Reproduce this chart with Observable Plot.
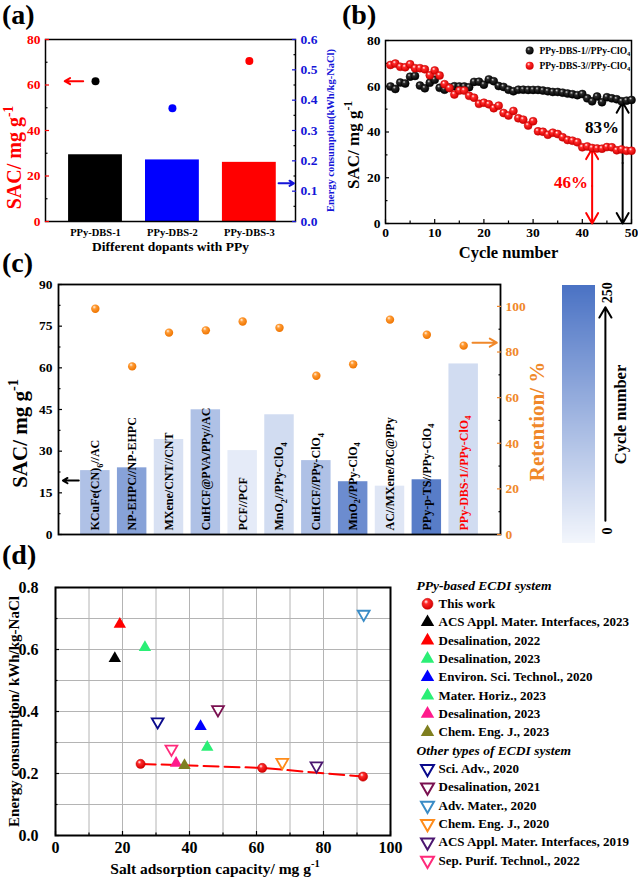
<!DOCTYPE html>
<html>
<head>
<meta charset="utf-8">
<script src="https://cdn.jsdelivr.net/npm/d3@7"></script>
<script src="https://cdn.jsdelivr.net/npm/@observablehq/plot@0.6"></script>
<style>
  html, body { margin: 0; padding: 0; background: #ffffff; }
  #root { position: relative; width: 638px; height: 883px; overflow: hidden; background: #fff; }
  .tag { position: absolute; font-family: "Liberation Serif", "Times New Roman", serif; font-weight: bold; font-size: 28px; line-height: 1; color: #000; }
</style>
</head>
<body>
<svg width="0" height="0" style="position:absolute">
  <defs>
    <radialGradient id="ballBlack" cx="0.42" cy="0.38" r="0.62" fx="0.36" fy="0.3">
      <stop offset="0" stop-color="#d8d8d8"/><stop offset="0.3" stop-color="#2a2a2a"/><stop offset="1" stop-color="#000"/>
    </radialGradient>
    <radialGradient id="ballRed" cx="0.42" cy="0.38" r="0.62" fx="0.36" fy="0.3">
      <stop offset="0" stop-color="#ffffff"/><stop offset="0.32" stop-color="#ff2a2a"/><stop offset="1" stop-color="#d40000"/>
    </radialGradient>
    <radialGradient id="ballOrange" cx="0.42" cy="0.38" r="0.62" fx="0.36" fy="0.3">
      <stop offset="0" stop-color="#fff4e6"/><stop offset="0.35" stop-color="#ff9a33"/><stop offset="1" stop-color="#ee7400"/>
    </radialGradient>
  </defs>
</svg>
<div id="root">
  <div class="tag" style="left:2px;top:1px">(a)</div>
  <div class="tag" style="left:342px;top:1px">(b)</div>
  <div class="tag" style="left:2px;top:249px">(c)</div>
  <div class="tag" style="left:2px;top:541px">(d)</div>
</div>
<script>
// ---------------- DATA ----------------
// Panel (a)
const dopants = ["PPy-DBS-1", "PPy-DBS-2", "PPy-DBS-3"];
const energyA = [0.22, 0.203, 0.195];          // kWh/kg-NaCl (bars, right axis)
const sacA = [61.7, 49.8, 70.5];               // mg/g (dots, left axis)
const sacTicksA = [0, 20, 40, 60, 80];
const sacMinorA = [10, 30, 50, 70];
const energyTicksA = [0, 0.1, 0.2, 0.3, 0.4, 0.5, 0.6];
const energyMinorA = [0.05, 0.15, 0.25, 0.35, 0.45, 0.55];

// Panel (b)
const cycles = d3.range(1, 51);
const sacDBS1 = [59.9, 58.8, 61.6, 61.2, 64.2, 64.5, 60.3, 59.1, 61.5, 62.8,
                 59.3, 58.5, 59.4, 60.0, 59.9, 59.9, 59.6, 61.9, 62.0, 60.7,
                 63.0, 62.2, 60.1, 59.7, 58.5, 57.8, 58.5, 58.5, 58.4, 58.4,
                 58.4, 58.1, 57.8, 57.5, 57.5, 57.2, 56.8, 56.5, 56.1, 56.6,
                 54.7, 53.4, 55.5, 53.0, 55.2, 54.7, 54.3, 53.4, 53.7, 54.0];
const sacDBS3 = [69.3, 69.9, 68.5, 68.3, 69.6, 67.9, 67.9, 67.4, 64.8, 66.9,
                 64.7, 60.9, 59.2, 56.4, 58.1, 58.1, 55.8, 55.0, 52.3, 52.8,
                 52.1, 50.4, 51.5, 48.3, 47.2, 49.2, 46.0, 45.4, 42.8, 44.7,
                 40.3, 40.1, 38.8, 39.7, 39.1, 37.7, 36.5, 36.2, 35.5, 33.3,
                 33.7, 33.0, 32.8, 32.7, 33.4, 33.3, 32.0, 32.4, 31.8, 31.8];
const seriesB = ["PPy-DBS-1//PPy-ClO₄", "PPy-DBS-3//PPy-ClO₄"];
const retainB = ["83%", "46%"];
const cycleTicksB = [0, 10, 20, 30, 40, 50];
const cycleMinorB = [5, 15, 25, 35, 45];
const sacTicksB = [0, 20, 40, 60, 80];
const sacMinorB = [10, 30, 50, 70];
// annotation anchors (data units): [cycle, top SAC]
const retainArrowB = [[48.2, 53.0], [42.0, 32.7]];
const retainTextB = [[44, 41.9], [37.7, 17.8]];

// Panel (c)
const electrodes = ["KCuFe(CN)₆//AC", "NP-EHPC//NP-EHPC", "MXene/CNT//CNT", "CuHCF@PVA/PPy//AC",
                    "PCF//PCF", "MnO₂//PPy-ClO₄", "CuHCF//PPy-ClO₄", "MnO₂//PPy-ClO₄",
                    "AC//MXene/BC@PPy", "PPy-p-TS//PPy-ClO₄", "PPy-DBS-1//PPy-ClO₄"];
const sacC = [23.0, 24.0, 34.2, 44.9, 30.2, 43.1, 26.6, 19.0, 17.4, 19.7, 61.4];
const retentionC = [99.0, 73.7, 88.5, 89.5, 93.4, 90.6, 69.6, 74.6, 94.2, 87.6, 82.8];
const cycleNumC = [100, 160, 40, 100, 20, 50, 100, 200, 30, 230, 50];
const sacTicksC = [0, 15, 30, 45, 60, 75, 90];
const sacMinorC = [7.5, 22.5, 37.5, 52.5, 67.5, 82.5];
const retTicksC = [0, 20, 40, 60, 80, 100];
const retMinorC = [10, 30, 50, 70, 90];
const cycleScaleC = [0, 250];

// Panel (d)
const thisWorkSAC = [25.4, 61.7, 91.8];
const thisWorkEnergy = [0.231, 0.218, 0.190];
const refNames = ["ACS Appl. Mater. Interfaces, 2023", "Desalination, 2022", "Desalination, 2023",
                  "Environ. Sci. Technol., 2020", "Mater. Horiz., 2023", "Desalination, 2023",
                  "Chem. Eng. J., 2023",
                  "Sci. Adv., 2020", "Desalination, 2021", "Adv. Mater., 2020", "Chem. Eng. J., 2020",
                  "ACS Appl. Mater. Interfaces, 2019", "Sep. Purif. Technol., 2022"];
const refGroup = ["PPy", "PPy", "PPy", "PPy", "PPy", "PPy", "PPy",
                  "Other", "Other", "Other", "Other", "Other", "Other"];
const refSAC = [17.7, 19.2, 26.7, 43.3, 45.3, 36.0, 38.5, 30.5, 48.5, 92.0, 67.7, 77.9, 34.6];
const refEnergy = [0.571, 0.682, 0.607, 0.352, 0.285, 0.233, 0.226, 0.367, 0.406, 0.714, 0.236, 0.225, 0.279];
const legendHeaders = ["PPy-based ECDI system", "Other types of ECDI system"];
const sacTicksD = [0, 20, 40, 60, 80, 100];
const sacMinorD = [10, 30, 50, 70, 90];
const energyTicksD = [0, 0.2, 0.4, 0.6, 0.8];
const energyMinorD = [0.1, 0.3, 0.5, 0.7];

// ---------------- STYLES ----------------
const SERIF = '"Liberation Serif", "Times New Roman", serif';
const colorsA = ["#000000", "#0000ff", "#ff0000"];
const refColors = ["#000000", "#ff0000", "#2bef76", "#0000ff", "#2bef76", "#ff1a8c", "#7f7f1f",
                   "#0a0a8c", "#7a1050", "#3a8cc6", "#ff8c1a", "#4b1670", "#ff2a7a"];
const BLUE_A = "#1515d8";
const ORANGE = "#f0882a";
const style = () => ({fontFamily: SERIF, fontWeight: "bold", background: "transparent", overflow: "visible", color: "black"});
const cycleColor = {type: "linear", domain: cycleScaleC, range: ["#f3f6fc", "#4a72c4"], interpolate: "rgb"};

const sqrt3 = Math.sqrt(3);
const triangleDown = {
  draw(context, size) {
    const y = -Math.sqrt(size / (sqrt3 * 3));
    context.moveTo(0, -y * 2);
    context.lineTo(sqrt3 * y, y);
    context.lineTo(-sqrt3 * y, y);
    context.closePath();
  }
};

function axY(values, o = {}) {
  const size = o.size ?? 4, pad = o.pad ?? 5;
  return Plot.axisY(values, {
    anchor: o.anchor ?? "left", tickSize: -size, tickPadding: size + pad,
    tickFormat: o.minor ? () => "" : o.fmt, color: o.color ?? "black",
    fontSize: o.fontSize ?? 13.5, fontWeight: "bold", label: null, strokeWidth: 1.2
  });
}
function axX(values, o = {}) {
  const size = o.size ?? 4, pad = o.pad ?? 5;
  return Plot.axisX(values, {
    anchor: "bottom", tickSize: -size, tickPadding: size + pad,
    tickFormat: o.minor ? () => "" : o.fmt, color: o.color ?? "black",
    fontSize: o.fontSize ?? 13.5, fontWeight: "bold", label: null, strokeWidth: 1.2
  });
}

// sub/superscript handling
const SUB = {"₀":"0","₁":"1","₂":"2","₃":"3","₄":"4","₅":"5","₆":"6","₇":"7","₈":"8","₉":"9"};
const SUP = {"⁻":"-","¹":"1"};
function scripts(svg) {
  const NS = "http://www.w3.org/2000/svg";
  svg.querySelectorAll("text").forEach(t => {
    if (t.children.length) return;
    const s = t.textContent;
    if (![...s].some(c => SUB[c] || SUP[c])) return;
    const fs = parseFloat(getComputedStyle(t).fontSize) || 12;
    const runs = [];
    for (const c of s) {
      const kind = SUB[c] ? "sub" : SUP[c] ? "sup" : "n";
      const ch = SUB[c] || SUP[c] || c;
      if (runs.length && runs[runs.length - 1].kind === kind) runs[runs.length - 1].text += ch;
      else runs.push({kind, text: ch});
    }
    t.textContent = "";
    let cur = 0;
    for (const r of runs) {
      const ts = document.createElementNS(NS, "tspan");
      const target = r.kind === "sub" ? 0.28 * fs : r.kind === "sup" ? -0.42 * fs : 0;
      if (target !== cur) ts.setAttribute("dy", (target - cur).toFixed(2));
      cur = target;
      if (r.kind !== "n") ts.setAttribute("font-size", (0.68 * fs).toFixed(2));
      ts.textContent = r.text;
      t.appendChild(ts);
    }
  });
}

const root = document.getElementById("root");
function place(node, left, top) {
  node.style.position = "absolute";
  node.style.left = left + "px";
  node.style.top = top + "px";
  root.appendChild(node);
  scripts(node);
}

// ---------------- PANEL (a) ----------------
const kA = 80 / 0.6;
const idxA = dopants.map((d, i) => i);
const plotA = Plot.plot({
  width: 342, height: 265, marginLeft: 45, marginRight: 47, marginTop: 39, marginBottom: 44,
  style: style(),
  x: {domain: [0.35, 3.6]},
  y: {domain: [0, 80]},
  marks: [
    Plot.rectY(idxA, {x1: i => i + 0.65, x2: i => i + 1.35, y1: 0, y2: i => energyA[i] * kA, fill: i => colorsA[i]}),
    Plot.dot(idxA, {x: i => i + 1, y: i => sacA[i], r: 4, fill: i => colorsA[i]}),
    Plot.frame({stroke: "black", strokeWidth: 1.5}),
    axY(sacTicksA, {color: "#ff0000", fontSize: 13.5}),
    axY(sacMinorA, {minor: true, size: 2.5}),
    axY(energyTicksA.map(v => v * kA), {anchor: "right", color: BLUE_A, fmt: d => (d / kA).toFixed(1), fontSize: 13.5}),
    axY(energyMinorA.map(v => v * kA), {anchor: "right", minor: true, size: 2.5}),
    Plot.axisX(idxA.map(i => i + 1), {tickSize: 0, tickPadding: 7, tickFormat: d => dopants[d - 1], fontSize: 10.5, fontWeight: "bold", label: null}),
    Plot.text(["Different dopants with PPy"], {frameAnchor: "bottom", dy: 29, fontSize: 13.5, fontWeight: "bold"}),
    Plot.text(["SAC/ mg g⁻¹"], {frameAnchor: "left", textAnchor: "middle", dx: -31, dy: 27, rotate: -90, fontSize: 20, fill: "#ff0000", fontWeight: "bold"}),
    Plot.text(["Energy consumption(kWh/kg-NaCl)"], {frameAnchor: "right", textAnchor: "middle", dx: 35, rotate: -90, fontSize: 10.5, fill: BLUE_A, fontWeight: "bold"}),
    Plot.arrow([sacA[0]], {x1: 0.84, x2: 0.6, y1: d => d, y2: d => d, stroke: "#ff0000", strokeWidth: 2, headLength: 9}),
    Plot.arrow([0.126 * kA], {x1: 3.38, x2: 3.58, y1: d => d, y2: d => d, stroke: BLUE_A, strokeWidth: 2, headLength: 8})
  ]
});
place(plotA, 0, 0);

// ---------------- PANEL (b) ----------------
const plotB = Plot.plot({
  width: 296, height: 275, marginLeft: 43, marginRight: 7, marginTop: 40, marginBottom: 52,
  style: style(),
  x: {domain: [0, 50]},
  y: {domain: [0, 80]},
  marks: [
    Plot.frame({stroke: "black", strokeWidth: 1.5}),
    axX(cycleTicksB, {pad: 4}),
    axX(cycleMinorB, {minor: true, size: 2.5}),
    axY(sacTicksB),
    axY(sacMinorB, {minor: true, size: 2.5}),
    // double-headed arrows
    Plot.arrow(retainArrowB, {x1: d => d[0], x2: d => d[0], y1: d => d[1] / 2, y2: d => d[1], stroke: (d, i) => i ? "#ff0000" : "#000000", strokeWidth: 2, headLength: 9}),
    Plot.arrow(retainArrowB, {x1: d => d[0], x2: d => d[0], y1: d => d[1] / 2, y2: 0, stroke: (d, i) => i ? "#ff0000" : "#000000", strokeWidth: 2, headLength: 9}),
    Plot.dot(cycles, {x: d => d, y: (d, i) => sacDBS1[i], r: 4, fill: "url(#ballBlack)", stroke: "#000", strokeWidth: 0.5}),
    Plot.dot(cycles, {x: d => d, y: (d, i) => sacDBS3[i], r: 4, fill: "url(#ballRed)", stroke: "#c00000", strokeWidth: 0.5}),
    Plot.dot(seriesB, {x: 29.3, y: (d, i) => i ? 69.0 : 75.6, r: 4, fill: (d, i) => i ? "url(#ballRed)" : "url(#ballBlack)"}),
    Plot.text(seriesB, {x: 31.3, y: (d, i) => i ? 69.0 : 75.6, textAnchor: "start", fontSize: 9.5, fontWeight: "bold"}),
    Plot.text(retainB, {x: (d, i) => retainTextB[i][0], y: (d, i) => retainTextB[i][1], fill: (d, i) => i ? "#ff0000" : "#000000", fontSize: 17, fontWeight: "bold"}),
    Plot.text(["Cycle number"], {frameAnchor: "bottom", dy: 34, fontSize: 16.5, fontWeight: "bold"}),
    Plot.text(["SAC/ mg g⁻¹"], {frameAnchor: "left", textAnchor: "middle", dx: -32, dy: 13, rotate: -90, fontSize: 17, fontWeight: "bold"})
  ]
});
place(plotB, 342, 0);

// ---------------- PANEL (c) ----------------
const kC = 90 / 109.6;
const idxC = electrodes.map((d, i) => i);
const plotC = Plot.plot({
  width: 545, height: 295, marginLeft: 58, marginRight: 45, marginTop: 14, marginBottom: 31,
  style: style(),
  x: {domain: [0, 12], axis: null},
  y: {domain: [0, 90]},
  color: cycleColor,
  marks: [
    Plot.rectY(idxC, {x1: i => i + 0.6, x2: i => i + 1.4, y1: 0, y2: i => sacC[i], fill: i => cycleNumC[i]}),
    Plot.text(idxC, {filter: i => i < idxC.length - 1, x: i => i + 1, y: 0, dy: -4, text: i => electrodes[i], rotate: -90, textAnchor: "start", fontSize: 12, fontWeight: "bold", fill: "black"}),
    Plot.text(idxC, {filter: i => i === idxC.length - 1, x: i => i + 1, y: 0, dy: -4, text: i => electrodes[i], rotate: -90, textAnchor: "start", fontSize: 12, fontWeight: "bold", fill: "#ff0000"}),
    Plot.dot(idxC, {x: i => i + 1, y: i => retentionC[i] * kC, r: 4.2, fill: "url(#ballOrange)"}),
    Plot.frame({stroke: "black", strokeWidth: 1.8}),
    axY(sacTicksC, {pad: 6}),
    axY(sacMinorC, {minor: true, size: 2.5}),
    axY(retTicksC.map(v => v * kC), {anchor: "right", color: ORANGE, fmt: d => String(Math.round(d / kC)), pad: 5}),
    axY(retMinorC.map(v => v * kC), {anchor: "right", minor: true, size: 2.5}),
    Plot.arrow([19.4], {x1: 0.55, x2: 0.12, y1: d => d, y2: d => d, stroke: "black", strokeWidth: 2, headLength: 9}),
    Plot.arrow([84.1 * kC], {x1: 11.24, x2: 11.9, y1: d => d, y2: d => d, stroke: ORANGE, strokeWidth: 2, headLength: 9}),
    Plot.text(["SAC/ mg g⁻¹"], {frameAnchor: "left", textAnchor: "middle", dx: -38, dy: 24, rotate: -90, fontSize: 21, fontWeight: "bold"}),
    Plot.text(["Retention/ %"], {frameAnchor: "right", textAnchor: "middle", dx: 37, dy: 12, rotate: -90, fontSize: 21, fontWeight: "bold", fill: ORANGE})
  ]
});
place(plotC, 0, 270);

// colour bar (cycle number)
const barSteps = d3.range(cycleScaleC[0], cycleScaleC[1]);
const plotCbar = Plot.plot({
  width: 93, height: 295, marginLeft: 17, marginRight: 43, marginTop: 15, marginBottom: 22,
  style: style(),
  x: {domain: [0, 1], axis: null},
  y: {domain: cycleScaleC, axis: null},
  color: cycleColor,
  marks: [
    Plot.rect(barSteps, {x1: 0, x2: 1, y1: d => d, y2: d => d + 1.2, fill: d => d + 0.5, shapeRendering: "crispEdges"}),
    Plot.arrow([cycleScaleC], {x1: 1.3, x2: 1.3, y1: 22, y2: 229, stroke: "black", strokeWidth: 2, headLength: 9}),
    Plot.text([cycleScaleC[0]], {x: 1.35, y: 12, rotate: -90, fontSize: 14, fontWeight: "bold"}),
    Plot.text([cycleScaleC[1]], {x: 1.35, y: 243, rotate: -90, fontSize: 14, fontWeight: "bold"}),
    Plot.text(["Cycle number"], {frameAnchor: "right", textAnchor: "middle", dx: 25, rotate: -90, fontSize: 16.5, fontWeight: "bold"})
  ]
});
place(plotCbar, 545, 270);

// ---------------- PANEL (d) ----------------
const idxRef = refNames.map((d, i) => i);
const idxTW = thisWorkSAC.map((d, i) => i);
const plotD = Plot.plot({
  width: 410, height: 323, marginLeft: 55, marginRight: 20, marginTop: 27, marginBottom: 48,
  style: style(),
  x: {domain: [0, 100]},
  y: {domain: [0, 0.8]},
  marks: [
    Plot.gridX(sacMinorD.concat(sacTicksD.slice(1, -1)), {stroke: "#b4b4b4", strokeOpacity: 1, strokeWidth: 1}),
    Plot.gridY(energyMinorD.concat(energyTicksD.slice(1, -1)), {stroke: "#b4b4b4", strokeOpacity: 1, strokeWidth: 1}),
    Plot.frame({stroke: "black", strokeWidth: 2}),
    axX(sacTicksD, {fontSize: 16, pad: 6}),
    axX(sacMinorD, {minor: true, size: 2.5}),
    axY(energyTicksD, {fontSize: 16, pad: 17, fmt: d => d.toFixed(1)}),
    axY(energyMinorD, {minor: true, size: 2.5}),
    Plot.line(idxTW, {x: i => thisWorkSAC[i], y: i => thisWorkEnergy[i], stroke: "#ff0000", strokeWidth: 2, strokeDasharray: "15 6"}),
    Plot.dot(idxRef, {filter: i => refGroup[i] === "PPy", x: i => refSAC[i], y: i => refEnergy[i], symbol: "triangle", r: 4.6, fill: i => refColors[i]}),
    Plot.dot(idxRef, {filter: i => refGroup[i] === "Other", x: i => refSAC[i], y: i => refEnergy[i], symbol: triangleDown, r: 4.4, stroke: i => refColors[i], strokeWidth: 1.8, fill: "white"}),
    Plot.dot(idxTW, {x: i => thisWorkSAC[i], y: i => thisWorkEnergy[i], r: 4.6, fill: "url(#ballRed)", stroke: "#c00000", strokeWidth: 0.5}),
    Plot.text(["Energy consumption/ kWh/kg-NaCl"], {frameAnchor: "left", textAnchor: "middle", dx: -41, rotate: -90, fontSize: 15, fontWeight: "bold"}),
    Plot.text(["Salt adsorption capacity/ mg g⁻¹"], {frameAnchor: "bottom", dx: -8, dy: 38, fontSize: 15.5, fontWeight: "bold"})
  ]
});
place(plotD, 0, 560);

// legend for (d)
const legendItems = [];
legendItems.push({row: 1, label: "This work", kind: "ball", color: "#ff0000"});
let row = 2;
idxRef.filter(i => refGroup[i] === "PPy").forEach(i => legendItems.push({row: row++, label: refNames[i], kind: "up", color: refColors[i]}));
const headerRows = [0, row];
row++;
idxRef.filter(i => refGroup[i] === "Other").forEach(i => legendItems.push({row: row++, label: refNames[i], kind: "down", color: refColors[i]}));

const plotL = Plot.plot({
  width: 228, height: 295, marginLeft: 0, marginRight: 0, marginTop: 0, marginBottom: 0,
  style: style(),
  y: {domain: [0, 15], range: [10, 285], axis: null},
  marks: [
    Plot.text(legendHeaders, {y: (d, i) => headerRows[i], frameAnchor: "left", dx: 6, textAnchor: "start", fontStyle: "italic", fontSize: 13.5, fontWeight: "bold"}),
    Plot.text(legendItems, {y: "row", text: "label", frameAnchor: "left", dx: 28, textAnchor: "start", fontSize: 13, fontWeight: "bold"}),
    Plot.dot(legendItems, {filter: d => d.kind === "ball", y: "row", frameAnchor: "left", dx: 17, r: 5.5, fill: "url(#ballRed)", stroke: "#c00000", strokeWidth: 0.5}),
    Plot.dot(legendItems, {filter: d => d.kind === "up", y: "row", frameAnchor: "left", dx: 17, symbol: "triangle", r: 5, fill: "color"}),
    Plot.dot(legendItems, {filter: d => d.kind === "down", y: "row", frameAnchor: "left", dx: 17, symbol: triangleDown, r: 4.8, stroke: "color", strokeWidth: 2, fill: "white"})
  ]
});
place(plotL, 410, 575);
</script>
</body>
</html>
